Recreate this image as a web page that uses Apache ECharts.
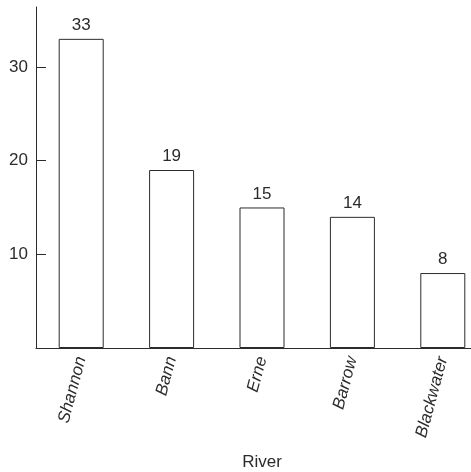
<!DOCTYPE html>
<html>
<head>
<meta charset="utf-8">
<script src="https://cdn.jsdelivr.net/npm/echarts@6/dist/echarts.min.js"></script>
<style>html,body{margin:0;padding:0;background:#fff}#c{width:471px;height:472px}</style>
</head>
<body>
<div id="c"></div>
<script>
const categories = ["Shannon", "Bann", "Erne", "Barrow", "Blackwater"];
const values = [33, 19, 15, 14, 8];
const yTicks = [10, 20, 30];
const xTitle = "River";

const chart = echarts.init(document.getElementById('c'), null, {renderer: 'canvas'});
const ink = '#2b2b2b';
const font = 'Liberation Sans, Arial, Helvetica, sans-serif';
chart.setOption({
  animation: false,
  backgroundColor: '#fff',
  grid: {left: 36, width: 452, top: 7, bottom: 124, containLabel: false, outerBoundsMode: 'none'},
  xAxis: {
    type: 'category',
    data: categories,
    boundaryGap: true,
    name: xTitle,
    nameLocation: 'middle',
    nameGap: 106,
    nameTextStyle: {color: ink, fontSize: 17, fontFamily: font},
    axisLine: {lineStyle: {color: ink, width: 1}},
    axisTick: {show: false},
    axisLabel: {rotate: 75, margin: 9, color: ink, fontSize: 17, fontStyle: 'italic', fontFamily: font, interval: 0}
  },
  yAxis: {
    type: 'value',
    min: 0,
    max: 36.4,
    interval: 10,
    splitLine: {show: false},
    axisLine: {show: true, lineStyle: {color: ink, width: 1}},
    axisTick: {show: true, inside: true, length: 10, customValues: yTicks, lineStyle: {color: ink, width: 1}},
    axisLabel: {
      margin: 8, color: ink, fontSize: 17, fontFamily: font,
      formatter: function (v) { return yTicks.indexOf(v) >= 0 ? String(v) : ''; }
    }
  },
  series: [{
    type: 'bar',
    data: values,
    barWidth: 45,
    itemStyle: {color: '#fff', borderColor: ink, borderWidth: 1},
    label: {show: true, position: 'top', distance: 5, color: ink, fontSize: 17, fontFamily: font}
  }]
});
</script>
</body>
</html>
